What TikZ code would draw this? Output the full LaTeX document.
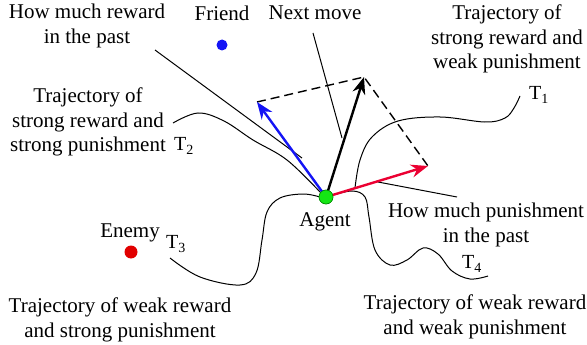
\documentclass[tikz,border=0pt]{standalone}
\usepackage{fontspec}
\setmainfont{Liberation Serif}
\usetikzlibrary{arrows.meta}
\definecolor{vblue}{RGB}{20,20,245}
\definecolor{vred}{RGB}{235,0,50}
\definecolor{dred}{RGB}{225,0,0}
\definecolor{agreen}{RGB}{20,230,20}
\begin{document}
\begin{tikzpicture}[x=1pt,y=-1pt,
  lbl/.style={align=center, font=\fontsize{21}{24.5}\selectfont, inner sep=0pt},
  tlab/.style={font=\fontsize{20}{22}\selectfont, inner sep=0pt},
  ptr/.style={line width=1pt},
  traj/.style={line width=1pt},
  vec/.style={line width=2.4pt, -{Stealth[length=17pt,width=13pt]}},
  dashln/.style={line width=1.4pt, dash pattern=on 9pt off 5pt},
  dotnode/.style={circle, inner sep=0pt, minimum size=#1}]
\useasboundingbox (0,0) rectangle (587,345);

% texts
\node[lbl] (rew) at (87,26) {How much reward\\in the past};
\node[lbl] (friend) at (222,13) {Friend};
\node[lbl] (next) at (315,13) {Next move};
\node[lbl] (t1txt) at (507,39) {Trajectory of\\strong reward and\\weak punishment};
\node[lbl] (t2txt) at (88,122) {Trajectory of\\strong reward and\\strong punishment};
\node[lbl] (enemy) at (130,233) {Enemy};
\node[lbl] (agenttxt) at (325,222) {Agent};
\node[lbl] (pun) at (486,225) {How much punishment\\in the past};
\node[lbl] (t4txt) at (475,317) {Trajectory of weak reward\\and weak punishment};
\node[lbl] (t3txt) at (120,320) {Trajectory of weak reward\\and strong punishment};

\node[tlab] (T1) at (539,95) {T\textsubscript{1}};
\node[tlab] (T2) at (184,146) {T\textsubscript{2}};
\node[tlab] (T3) at (176,244) {T\textsubscript{3}};
\node[tlab] (T4) at (472,264) {T\textsubscript{4}};

% pointer lines
\coordinate (rewA) at (155,50);
\coordinate (rewB) at (302,158);
\coordinate (nextA) at (313,33);
\coordinate (nextB) at (342,138);
\coordinate (punA) at (378,182);
\coordinate (punB) at (457,197);
\draw[ptr] (rewA) -- (rewB);
\draw[ptr] (nextA) -- (nextB);
\draw[ptr] (punA) -- (punB);

% trajectories
\draw[traj] plot[smooth, tension=0.6] coordinates {(355,188) (360,160) (372,137) (398,121) (440,117) (485,122) (505,118) (514,108) (520,96)};
\draw[traj] plot[smooth, tension=0.6] coordinates {(173,123) (198,113) (224,121) (253,140) (287,160) (321,193)};
\draw[traj] plot[smooth, tension=0.6] coordinates {(170,258) (200,277) (240,285) (256,273) (262,240) (267,212) (280,198) (303,194) (320,197)};
\draw[traj] plot[smooth, tension=0.6] coordinates {(330,196) (352,191) (365,197) (369,217) (375,250) (390,265) (407,260) (423,248) (438,254) (452,271) (470,279) (488,276)};

% vector tips
\coordinate (bt) at (257,102);
\coordinate (kt) at (364,77);
\coordinate (rt) at (428,166);

\draw[dashln] (bt) -- (kt) -- (rt);

% agent
\node[dotnode=14pt, fill=agreen, draw=green!50!black, line width=0.5pt] (agent) at (326,197) {};
\draw[vec, vblue] (agent.center) -- (bt);
\draw[vec, black] (agent.center) -- (kt);
\draw[vec, vred] (agent.center) -- (rt);
\node[dotnode=14pt, fill=agreen, draw=green!50!black, line width=0.5pt] at (agent) {};

% friend / enemy
\node[dotnode=11pt, fill=vblue] (fdot) at (222,45) {};
\node[dotnode=13pt, fill=dred] (edot) at (131,252) {};
\end{tikzpicture}
\end{document}
